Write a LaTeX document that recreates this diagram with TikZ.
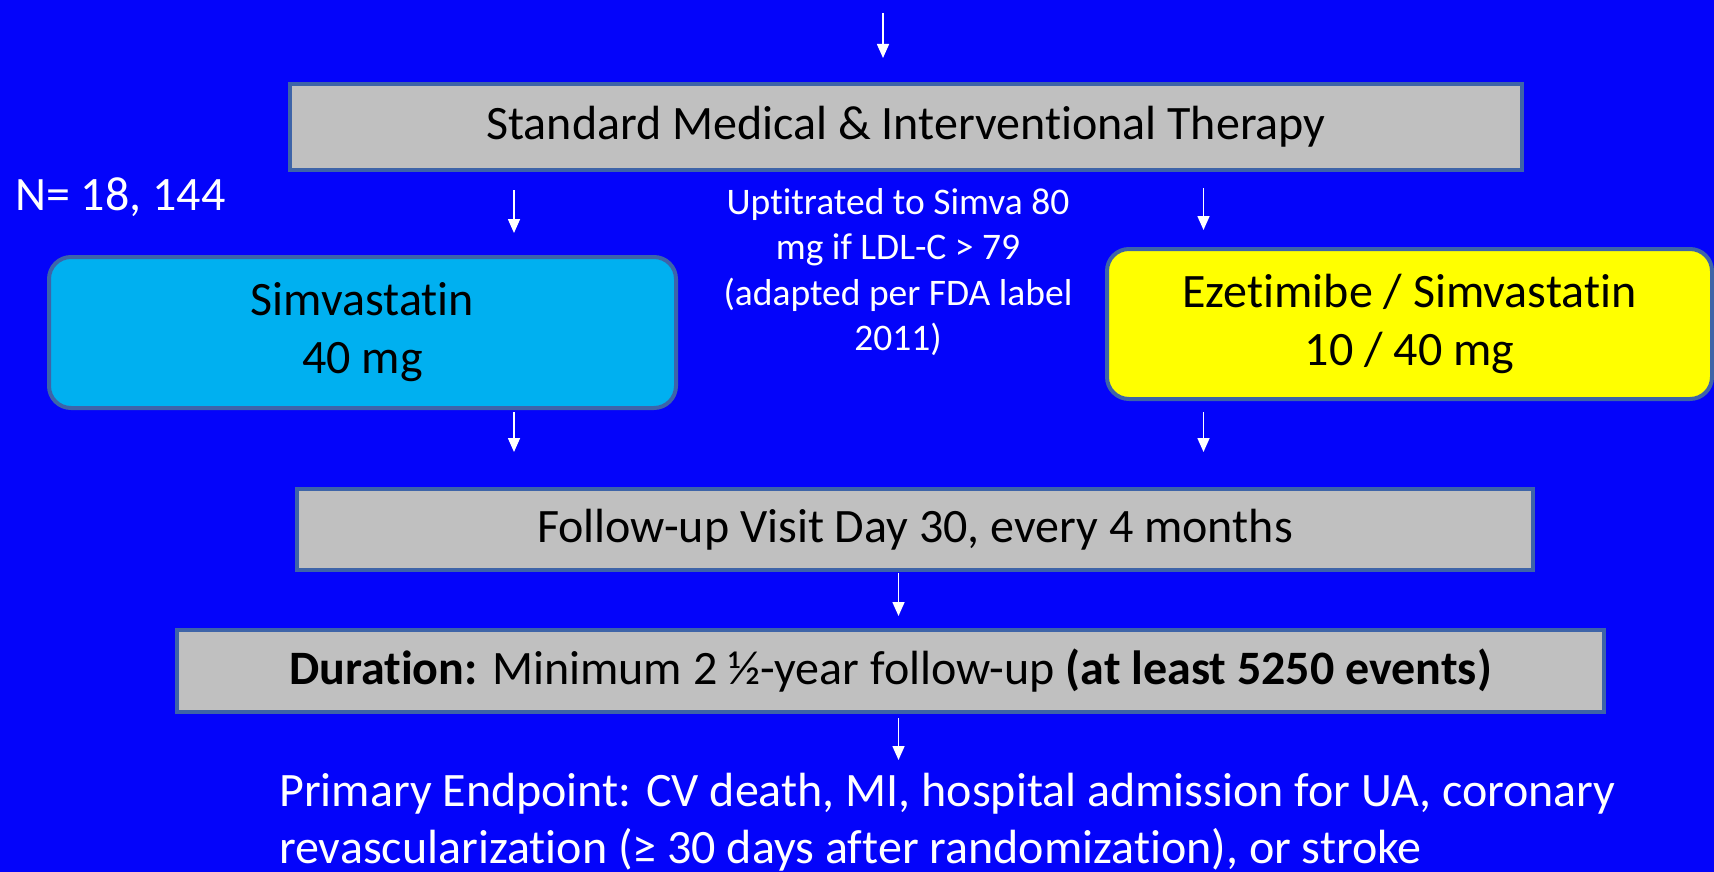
\documentclass[tikz,border=0pt]{standalone}
\usepackage{fontspec}
\setmainfont{Carlito}[Ligatures=NoCommon]
\usetikzlibrary{arrows.meta}
\definecolor{bgblue}{RGB}{4,4,250}
\definecolor{boxgray}{RGB}{192,192,192}
\definecolor{boxedge}{RGB}{62,100,168}
\definecolor{simvacyan}{RGB}{0,176,240}
\definecolor{ezetyellow}{RGB}{255,255,0}
\tikzset{
  stepbox/.style={draw=boxedge, line width=4pt, fill=boxgray, inner sep=0pt,
    text=black, font=\fontsize{48}{58}\selectfont, align=center},
  armbox/.style={stepbox, rounded corners=22pt},
  note/.style={text=white, inner sep=0pt},
  arr/.style={draw=white, line width=1.6pt, -{Triangle[width=12pt,length=14pt]}},
}
\begin{document}
\begin{tikzpicture}[x=1pt,y=-1pt]
  \fill[bgblue] (0,0) rectangle (1714,872);
  \useasboundingbox (0,0) rectangle (1714,872);

  % boxes
  \node[stepbox, minimum width=1232pt, minimum height=86pt] (std) at (906,127)
    {Standard Medical \& Interventional Therapy};
  \node[armbox, fill=simvacyan, minimum width=627pt, minimum height=151pt] (simva) at (362.5,332.5)
    {\raisebox{-3pt}{\parbox{600pt}{\centering Simvastatin\\40 mg}}};
  \node[armbox, fill=ezetyellow, minimum width=605pt, minimum height=150pt] (ezet) at (1409.5,324)
    {Ezetimibe / Simvastatin\\10 / 40 mg};
  \node[stepbox, minimum width=1236pt, minimum height=81pt] (follow) at (915,529.5)
    {Follow-up Visit Day 30, every 4 months};
  \node[stepbox, minimum width=1427pt, minimum height=82pt] (dur) at (890.5,671)
    {\textbf{Duration:} Minimum 2 ½-year follow-up \textbf{(at least 5250 events)}};

  % free text
  \node[note, anchor=west, font=\fontsize{48}{57}\selectfont] (n) at (15,197) {N= 18, 144};
  \node[note, align=center, font=\fontsize{37.5}{45.2}\selectfont] (upt) at (898,272)
    {Uptitrated to Simva 80\\mg if LDL-C > 79\\(adapted per FDA label\\2011)};
  \node[note, anchor=west, align=left, font=\fontsize{48}{57}\selectfont] (prim) at (279,822)
    {Primary Endpoint: CV death, MI, hospital admission for UA, coronary\\
     revascularization (≥ 30 days after randomization), or stroke};

  % connectors
  \coordinate (topin) at (883,13);
  \draw[arr, shorten >=24pt] (topin) -- (topin |- std.north);
  \draw[arr, shorten <=18pt, shorten >=22pt] (std.south -| 514,0) -- (simva.north -| 514,0);
  \draw[arr, shorten <=2pt, shorten >=35pt] (simva.south -| 514,0) -- (follow.north -| 514,0);
  \draw[arr, shorten <=16pt, shorten >=17pt] (std.south -| 1203.5,0) -- (ezet.north -| 1203.5,0);
  \draw[arr, shorten <=11pt, shorten >=35pt] (ezet.south -| 1203.5,0) -- (follow.north -| 1203.5,0);
  \draw[arr, shorten <=1pt, shorten >=12pt] (follow.south -| 898.5,0) -- (dur.north -| 898.5,0);
  \coordinate (primtop) at (898.5,760);
  \draw[arr, shorten <=4pt] (dur.south -| primtop) -- (primtop);
\end{tikzpicture}
\end{document}
